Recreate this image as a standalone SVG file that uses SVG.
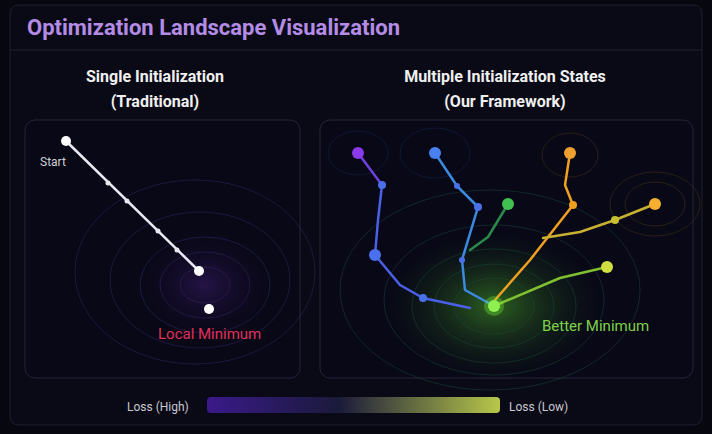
<svg xmlns="http://www.w3.org/2000/svg" width="712" height="434" viewBox="0 0 712 434">
<defs>
<linearGradient id="lg" x1="0" x2="1"><stop offset="0" stop-color="#3a1a8a"/><stop offset="0.45" stop-color="#1a1a3a"/><stop offset="1" stop-color="#b8c84a"/></linearGradient>
<radialGradient id="gl"><stop offset="0" stop-color="#5ad02a" stop-opacity="0.45"/><stop offset="1" stop-color="#1a4020" stop-opacity="0"/></radialGradient>
<radialGradient id="pl"><stop offset="0" stop-color="#5a2aa0" stop-opacity="0.35"/><stop offset="1" stop-color="#200a40" stop-opacity="0"/></radialGradient>
<style>
.t{font-family:Roboto,"Liberation Sans",sans-serif}
.sub{font-size:16px;font-weight:bold;fill:#f0f0f0;text-anchor:middle}
.panel{fill:#080816;stroke:#25253a;stroke-width:1}
.p{fill:none;stroke-width:2.5;stroke-linecap:round;stroke-linejoin:round}
.c{fill:none;stroke-width:0.8;opacity:0.6}
.leg{font-size:12px;fill:#c8c8d0}
</style>
</defs>
<rect width="712" height="434" fill="#07070f"/>
<rect x="10" y="5" width="692" height="420" rx="8" fill="#0a0a16" stroke="#1e1e30"/>
<line x1="10" y1="50" x2="702" y2="50" stroke="#1e1e30"/>
<text class="t" x="27" y="35" font-size="22" font-weight="bold" fill="#b48ce6">Optimization Landscape Visualization</text>
<text class="t sub" x="155" y="82">Single Initialization</text>
<text class="t sub" x="155" y="107">(Traditional)</text>
<text class="t sub" x="505" y="82">Multiple Initialization States</text>
<text class="t sub" x="505" y="107">(Our Framework)</text>
<g id="left-panel">
<rect class="panel" x="25" y="120" width="275" height="258" rx="10"/>
<ellipse cx="205" cy="285" rx="70" ry="55" fill="url(#pl)"/>
<g class="c" stroke="#3a2a6a">
<ellipse cx="205" cy="285" rx="25" ry="18"/><ellipse cx="205" cy="285" rx="45" ry="33"/><ellipse cx="205" cy="285" rx="65" ry="48"/><ellipse cx="200" cy="280" rx="90" ry="68"/><ellipse cx="195" cy="272" rx="120" ry="92"/>
</g>
</g>
<g id="right-panel">
<rect class="panel" x="320" y="120" width="373" height="258" rx="10"/>
<ellipse cx="494" cy="306" rx="110" ry="75" fill="url(#gl)"/>
<g class="c" stroke="#1e4a3a">
<ellipse cx="494" cy="306" rx="20" ry="14"/><ellipse cx="494" cy="306" rx="40" ry="28"/><ellipse cx="494" cy="306" rx="60" ry="42"/><ellipse cx="494" cy="306" rx="82" ry="57"/><ellipse cx="494" cy="300" rx="110" ry="75"/><ellipse cx="490" cy="290" rx="150" ry="100"/>
</g>
<g class="c" stroke="#4a3a1a"><ellipse cx="570" cy="155" rx="28" ry="22"/><ellipse cx="655" cy="204" rx="30" ry="22"/><ellipse cx="655" cy="204" rx="45" ry="32"/></g>
<g class="c" stroke="#1a2a50"><ellipse cx="435" cy="153" rx="35" ry="25"/><ellipse cx="358" cy="153" rx="30" ry="22"/></g>
</g>
<g id="connectors">
<path class="p" stroke="#e8e8f0" stroke-width="1.8" d="M66,141 L199,271"/>
<g fill="#e8e8f0"><circle cx="108" cy="183" r="2.5"/><circle cx="127" cy="201" r="2.5"/><circle cx="158" cy="231" r="2.5"/><circle cx="177" cy="250" r="2.5"/></g>
<path class="p" stroke="#7040e0" d="M358,153 L382,185"/>
<path class="p" stroke="#4a60e8" d="M382,185 L378,220 L375,255 L400,285 L423,298 L470,308"/>
<path class="p" stroke="#3a8ae0" d="M435,153 L457,186 L478,207 L462,260 L465,290 L494,306"/>
<path class="p" stroke="#2a8a4a" d="M508,204 L488,237 L470,250"/>
<path class="p" stroke="#f0a020" d="M570,153 L565,185 L573,205 L530,260 L495,300"/>
<path class="p" stroke="#c8b030" d="M655,204 L615,220 L580,232 L543,238"/>
<path class="p" stroke="#80c030" d="M607,267 L560,278 L494,306"/>
<g fill="#4a70e8"><circle cx="382" cy="185" r="4"/><circle cx="423" cy="298" r="4"/><circle cx="457" cy="186" r="3"/><circle cx="478" cy="207" r="4"/><circle cx="462" cy="260" r="3"/></g>
<circle cx="573" cy="205" r="4" fill="#f0a020"/><circle cx="615" cy="220" r="4" fill="#c8c030"/>
</g>
<g id="n-start"><circle cx="66" cy="141" r="5" fill="#fff"/><text class="t" x="40" y="166" font-size="12" fill="#d0d0d8">Start</text></g>
<g id="n-local"><circle cx="199" cy="271" r="5" fill="#fff"/><circle cx="209" cy="309" r="5" fill="#fff"/><text class="t" x="158" y="339" font-size="15" fill="#e0305a">Local Minimum</text></g>
<g id="n-s1"><circle cx="358" cy="153" r="6" fill="#8a3ae8"/></g>
<g id="n-s2"><circle cx="435" cy="153" r="6" fill="#4a80f0"/></g>
<g id="n-s3"><circle cx="508" cy="204" r="6" fill="#40c050"/></g>
<g id="n-s4"><circle cx="570" cy="153" r="6" fill="#f0a030"/></g>
<g id="n-s5"><circle cx="655" cy="204" r="6" fill="#f5b030"/></g>
<g id="n-s6"><circle cx="607" cy="267" r="6" fill="#d0e040"/></g>
<g id="n-s7"><circle cx="375" cy="255" r="6" fill="#4a70f0"/></g>
<g id="n-better"><circle cx="494" cy="306" r="10" fill="#7aff40" opacity="0.3"/><circle cx="494" cy="306" r="6" fill="#90f050"/><text class="t" x="542" y="331" font-size="15" fill="#7ed04a">Better Minimum</text></g>
<g id="legend">
<text class="t leg" x="127" y="411">Loss (High)</text>
<rect x="207" y="397" width="293" height="16" rx="4" fill="url(#lg)"/>
<text class="t leg" x="509" y="411">Loss (Low)</text>
</g>
</svg>
